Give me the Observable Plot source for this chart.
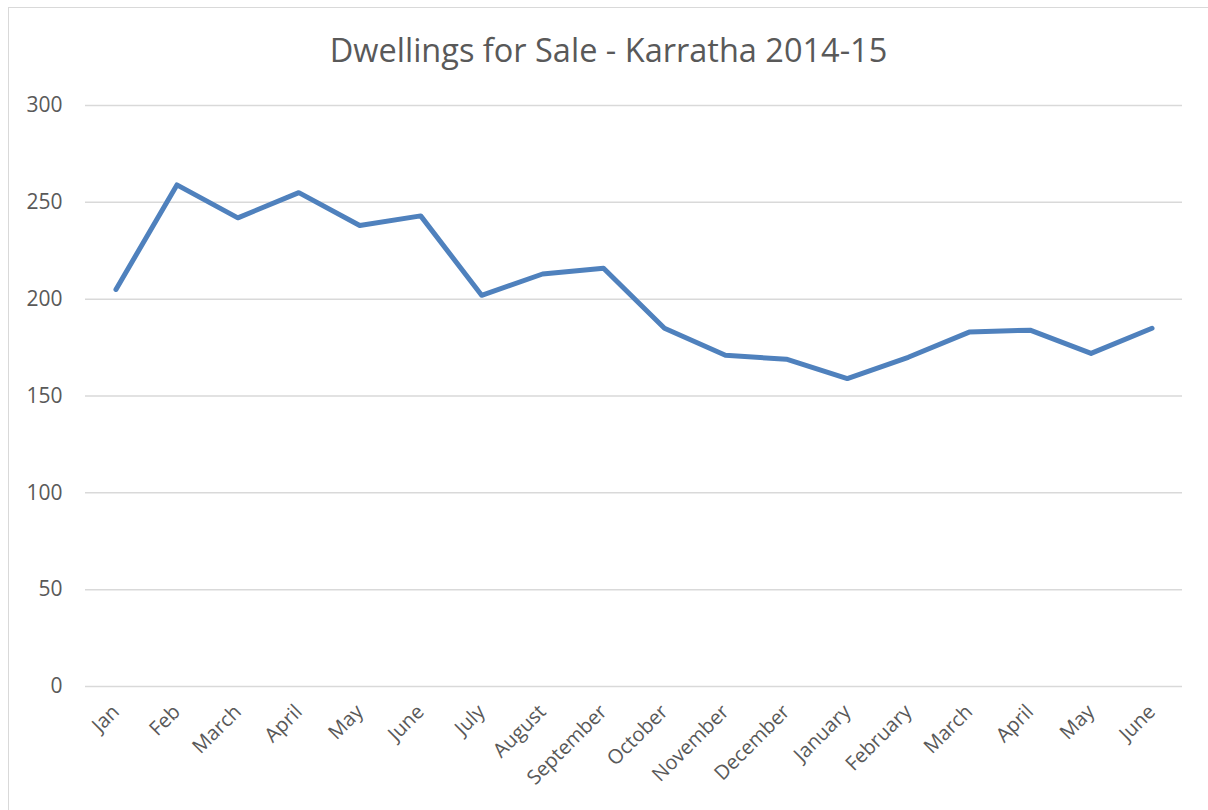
<!DOCTYPE html>
<html>
<head>
<meta charset="utf-8">
<script src="https://cdn.jsdelivr.net/npm/d3@7"></script>
<script src="https://cdn.jsdelivr.net/npm/@observablehq/plot@0.6"></script>
<style>
  html, body { margin: 0; padding: 0; background: #fff; }
  #frame { position: relative; width: 1208px; height: 810px; overflow: hidden; background: #fff; }
  #border { position: absolute; left: 8px; top: 7px; width: 1300px; height: 900px; border: 1.5px solid #d9d9d9; box-sizing: border-box; }
  #title { position: absolute; left: 0; top: 0; width: 1208px; height: 88px; text-align: center;
           font-family: "Open Sans", sans-serif; font-size: 32.5px; color: #595959; line-height: 88px; padding-top: 6px; padding-left: 9px; box-sizing: border-box; }
  #chart { position: absolute; left: 0; top: 88px; }
</style>
</head>
<body>
<div id="frame">
  <div id="border"></div>
  <div id="title">Dwellings for Sale - Karratha 2014-15</div>
  <div id="chart"></div>
</div>
<script>
const months = ["Jan","Feb","March","April","May","June","July","August","September","October","November","December","January","February","March","April","May","June"];
const values = [205,259,242,255,238,243,202,213,216,185,171,169,159,170,183,184,172,185];
const yTicks = [0,50,100,150,200,250,300];

const data = months.map((m, i) => ({i, month: m, value: values[i]}));

const chart = Plot.plot({
  width: 1208,
  height: 722,
  marginTop: 17,
  marginBottom: 124,
  marginLeft: 85,
  marginRight: 26,
  style: {fontFamily: "Open Sans, sans-serif", color: "#595959", background: "transparent", overflow: "visible"},
  x: {type: "point", domain: d3.range(months.length), padding: 0.5, round: false, label: null},
  y: {domain: [0, 300], label: null},
  marks: [
    Plot.ruleY(yTicks, {stroke: "#d9d9d9", strokeWidth: 1.5}),
    Plot.axisY({ticks: yTicks, tickSize: 0, tickPadding: 23, fontSize: 21, label: null}),
    Plot.axisX({tickFormat: i => months[i], tickRotate: -45, tickSize: 0, tickPadding: 22, fontSize: 20, label: null}),
    Plot.lineY(data, {x: "i", y: "value", stroke: "#4F81BD", strokeWidth: 5, strokeLinejoin: "round", strokeLinecap: "round"})
  ]
});
document.getElementById("chart").appendChild(chart);
</script>
</body>
</html>
